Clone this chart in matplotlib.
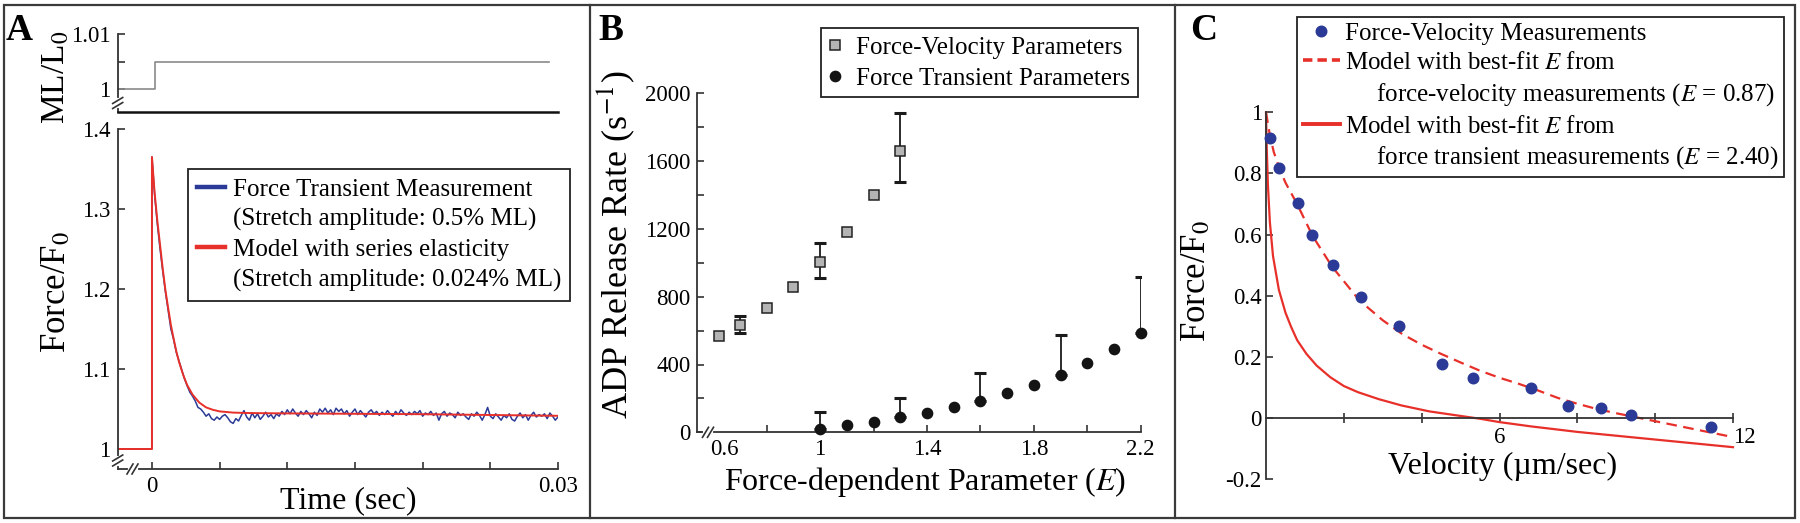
import numpy as np
import matplotlib
matplotlib.use('Agg')
import matplotlib.pyplot as plt
from matplotlib.lines import Line2D
from matplotlib.patches import Rectangle
import matplotlib.transforms as mtransforms

plt.rcParams['font.family'] = ['Liberation Serif', 'DejaVu Serif']
plt.rcParams['mathtext.fontset'] = 'stix'

# ---------------- data: panel A ----------------
ml_time = [-0.0025, 0.0002, 0.0002, 0.0293]
ml_value = [1.0, 1.0, 1.005, 1.005]

model_time = [-0.0025, 0.0, 0.0, 0.0002, 0.0004, 0.0006, 0.0008, 0.0010, 0.0012, 0.0014,
              0.0016, 0.0018, 0.0020, 0.0023, 0.0026, 0.0030, 0.0035, 0.0040, 0.0045,
              0.0050, 0.0060, 0.0070, 0.0080, 0.0100, 0.0150, 0.0200, 0.0250, 0.0300]
model_force = [1.0, 1.0, 1.365, 1.32, 1.285, 1.255, 1.225, 1.198, 1.176, 1.155,
               1.138, 1.122, 1.109, 1.093, 1.080, 1.068, 1.058, 1.052, 1.049,
               1.047, 1.0455, 1.045, 1.0448, 1.0445, 1.0440, 1.0435, 1.0425, 1.0415]

meas_time_pre = [-0.0025, 0.0]
meas_force_pre = [1.0, 1.0]
meas_dt = 0.0002
meas_force = [
    1.365, 1.317, 1.281, 1.250, 1.222, 1.196, 1.173, 1.150, 1.137, 1.121,
    1.110, 1.099, 1.088, 1.079, 1.071,
    1.066, 1.060, 1.052, 1.050, 1.046, 1.041, 1.044, 1.038, 1.036, 1.040,
    1.037, 1.041, 1.043, 1.039, 1.034, 1.032, 1.038, 1.035, 1.042, 1.048,
    1.040, 1.036, 1.045, 1.039, 1.044, 1.037, 1.041, 1.046, 1.040, 1.043,
    1.038, 1.044, 1.041, 1.047, 1.043, 1.049, 1.044, 1.050, 1.045, 1.041,
    1.047, 1.043, 1.048, 1.044, 1.039, 1.046, 1.042, 1.050, 1.046, 1.051,
    1.045, 1.049, 1.043, 1.051, 1.047, 1.050, 1.044, 1.048, 1.041, 1.046,
    1.050, 1.043, 1.048, 1.044, 1.040, 1.046, 1.049, 1.044, 1.047, 1.042,
    1.046, 1.043, 1.048, 1.044, 1.041, 1.047, 1.043, 1.049, 1.045, 1.042,
    1.046, 1.043, 1.047, 1.044, 1.048, 1.041, 1.045, 1.043, 1.047, 1.042,
    1.045, 1.036, 1.044, 1.047, 1.041, 1.045, 1.043, 1.039, 1.046, 1.042,
    1.044, 1.040, 1.037, 1.044, 1.041, 1.046, 1.042, 1.036, 1.043, 1.052,
    1.041, 1.038, 1.044, 1.040, 1.036, 1.042, 1.039, 1.044, 1.037, 1.035,
    1.041, 1.045, 1.039, 1.043, 1.036, 1.042, 1.046, 1.040, 1.043, 1.041,
    1.044, 1.038, 1.045, 1.041, 1.036, 1.040]

# ---------------- data: panel B ----------------
fv_E = [0.62, 0.7, 0.8, 0.9, 1.0, 1.1, 1.2, 1.3]
fv_rate = [568, 631, 731, 855, 1003, 1182, 1400, 1662]
fv_err_E = [0.7, 1.0, 1.3]
fv_err_lo = [588, 912, 1477]
fv_err_hi = [684, 1115, 1884]

ft_E = [1.0, 1.1, 1.2, 1.3, 1.4, 1.5, 1.6, 1.7, 1.8, 1.9, 2.0, 2.1, 2.2]
ft_rate = [22, 41, 63, 88, 116, 147, 187, 230, 279, 338, 409, 490, 588]
ft_err_E = [1.0, 1.3, 1.6, 1.9, 2.2]
ft_err_hi = [118, 205, 348, 574, 918]

# ---------------- data: panel C ----------------
fvm_vel = [0.09, 0.33, 0.81, 1.19, 1.73, 2.44, 3.43, 4.51, 5.33, 6.81, 7.77, 8.61, 9.37, 11.43]
fvm_force = [0.916, 0.817, 0.702, 0.598, 0.502, 0.395, 0.302, 0.177, 0.131, 0.098, 0.040, 0.034, 0.011, -0.028]

fit087_vel = [0, 0.1, 0.2, 0.35, 0.5, 0.8, 1.2, 1.7, 2.4, 3.0, 3.5, 4.0, 4.5, 5.0, 5.5, 6.0,
              6.5, 7.0, 7.5, 8.0, 8.5, 9.0, 9.5, 10.0, 10.5, 11.0, 11.5, 12.0]
fit087_force = [1.0, 0.925, 0.87, 0.815, 0.77, 0.70, 0.595, 0.495, 0.385, 0.32, 0.275, 0.24,
                0.21, 0.182, 0.155, 0.132, 0.112, 0.09, 0.066, 0.047, 0.030, 0.016, 0.003,
                -0.010, -0.023, -0.036, -0.049, -0.062]

fit240_vel = [0, 0.02, 0.05, 0.1, 0.18, 0.33, 0.5, 0.64, 0.8, 1.04, 1.3, 1.65, 2.0, 2.36,
              2.9, 3.48, 4.2, 4.9, 5.5, 6.0, 6.81, 8.0, 10.0, 12.0]
fit240_force = [1.0, 0.88, 0.76, 0.64, 0.53, 0.42, 0.345, 0.30, 0.255, 0.21, 0.172, 0.134,
                0.105, 0.085, 0.062, 0.0415, 0.022, 0.009, -0.002, -0.013, -0.027, -0.045,
                -0.07, -0.095]

# ---------------- styling ----------------
BLUE = '#2b3a96'
RED = '#e8302a'
SPINE = '#333333'
TICK_FS = 16.5
LAB_FS = 23
YLAB_FS = 25
LEG_FS = 18

W, H = 1800, 523
fig = plt.figure(figsize=(18, 5.23), dpi=100)


def fx(x):
    return x / W


def fy(y):
    return 1 - y / H


def axes_px(l, t, r, b):
    return fig.add_axes([fx(l), fy(b), (r - l) / W, (b - t) / H])


def style(ax, pad=5):
    for s in ['top', 'right']:
        ax.spines[s].set_visible(False)
    for s in ['left', 'bottom']:
        ax.spines[s].set_linewidth(1.3)
        ax.spines[s].set_color(SPINE)
    ax.tick_params(direction='in', length=5, width=1.2, color=SPINE,
                   labelsize=TICK_FS, pad=pad)


def brk(xc, yc, orient):
    """axis break mark drawn in figure pixels"""
    if orient == 'v':
        fig.add_artist(Line2D([fx(xc), fx(xc)], [fy(yc - 3), fy(yc + 3)],
                              color='white', lw=3, transform=fig.transFigure))
        for d in (-2.5, 2.5):
            fig.add_artist(Line2D([fx(xc - 5), fx(xc + 5)], [fy(yc + d + 3), fy(yc + d - 3)],
                                  color=SPINE, lw=1.2, transform=fig.transFigure))
    else:
        fig.add_artist(Line2D([fx(xc - 3), fx(xc + 3)], [fy(yc), fy(yc)],
                              color='white', lw=3, transform=fig.transFigure))
        for d in (-2.5, 2.5):
            fig.add_artist(Line2D([fx(xc + d - 3), fx(xc + d + 3)], [fy(yc + 5), fy(yc - 5)],
                                  color=SPINE, lw=1.2, transform=fig.transFigure))


def legend_kw(x, y, bp, ls, hl, htp):
    return dict(loc='upper left', bbox_to_anchor=(fx(x), fy(y)), bbox_transform=fig.transFigure,
                fontsize=LEG_FS, frameon=True, fancybox=False, framealpha=1,
                edgecolor='#222222', borderpad=bp, labelspacing=ls, handlelength=hl,
                handletextpad=htp, borderaxespad=0)


# ---------------- Panel A (top) ----------------
A_L, A_R = 117.7, 558
axA0 = axes_px(A_L, 34.3, A_R, 112)
style(axA0)
axA0.plot(ml_time, ml_value, color='#8a8a8a', lw=1.2, clip_on=False)
axA0.set_xlim(-0.00253, 0.03)
axA0.set_ylim(0.99579, 1.01)
axA0.set_yticks([1.0, 1.005, 1.01])
axA0.set_yticklabels(['1', '', '1.01'])
axA0.set_xticks([])
axA0.spines['bottom'].set_linewidth(1.8)
axA0.spines['bottom'].set_color('#111111')
axA0.set_ylabel('ML/L$_0$', fontsize=YLAB_FS - 1)
axA0.yaxis.set_label_coords(-0.106, 0.45)

# ---------------- Panel A (main) ----------------
axA = axes_px(A_L, 129, A_R, 469)
style(axA)
meas_time = [i * meas_dt for i in range(len(meas_force))]
axA.plot(meas_time_pre + meas_time, meas_force_pre + meas_force, color=BLUE, lw=1.1)
axA.plot(model_time, model_force, color=RED, lw=1.4)
axA.set_xlim(-0.00253, 0.03)
axA.set_ylim(0.975, 1.4)
axA.set_yticks([1.0, 1.1, 1.2, 1.3, 1.4])
axA.set_yticklabels(['1', '1.1', '1.2', '1.3', '1.4'])
axA.set_xticks([0, 0.005, 0.01, 0.015, 0.02, 0.025, 0.03])
axA.set_xticklabels(['0', '', '', '', '', '', '0.03'])
axA.set_xlabel('Time (sec)', fontsize=LAB_FS)
axA.xaxis.set_label_coords(0.523, -0.05)
axA.set_ylabel('Force/F$_0$', fontsize=YLAB_FS)
axA.yaxis.set_label_coords(-0.1015, 0.52)

blank = Line2D([], [], color='none')
legA = axA.legend(
    [Line2D([], [], color=BLUE, lw=3.2), blank, Line2D([], [], color=RED, lw=3.2), blank],
    ['Force Transient Measurement', '(Stretch amplitude: 0.5% ML)',
     'Model with series elasticity', '(Stretch amplitude: 0.024% ML)'],
    **legend_kw(187.5, 169, 0.36, 0.3, 1.15, 0.3))
legA.get_frame().set_linewidth(1.3)

# ---------------- Panel B ----------------
axB = axes_px(697.3, 93.3, 1140.7, 432.3)
style(axB)
fv_map = dict(zip(fv_E, fv_rate))
ft_map = dict(zip(ft_E, ft_rate))
fv_err_c = [fv_map[e] for e in fv_err_E]
axB.errorbar(fv_err_E, fv_err_c,
             yerr=[[c - lo for c, lo in zip(fv_err_c, fv_err_lo)],
                   [hi - c for c, hi in zip(fv_err_c, fv_err_hi)]],
             fmt='none', ecolor='#1a1a1a', elinewidth=1.3, capsize=4.3, capthick=2.2, zorder=2)
ft_err_c = [ft_map[e] for e in ft_err_E]
axB.errorbar(ft_err_E, ft_err_c,
             yerr=[[0] * len(ft_err_c), [hi - c for c, hi in zip(ft_err_c, ft_err_hi)]],
             fmt='none', ecolor='#1a1a1a', elinewidth=1.3, capsize=4.3, capthick=2.2, zorder=2)
axB.plot(fv_E, fv_rate, 's', ms=7, mfc='#b4b4b4', mec='#222222', mew=1.1, zorder=3,
         clip_on=False, label='Force-Velocity Parameters')
axB.plot(ft_E, ft_rate, 'o', ms=7.4, mfc='#141414', mec='#141414', zorder=3,
         clip_on=False, label='Force Transient Parameters')
axB.set_xlim(0.54, 2.2)
axB.set_ylim(0, 2000)
axB.set_yticks(np.arange(0, 2001, 200))
axB.set_yticklabels([str(v) if v % 400 == 0 else '' for v in range(0, 2001, 200)])
axB.set_xticks([0.6, 0.8, 1.0, 1.2, 1.4, 1.6, 1.8, 2.0, 2.2])
axB.set_xticklabels(['0.6', '', '1', '', '1.4', '', '1.8', '', '2.2'])
t0 = axB.xaxis.get_major_ticks()[0]
t0.tick1line.set_visible(False)
t0.label1.set_transform(t0.label1.get_transform() +
                        mtransforms.ScaledTranslation(0.11, 0, fig.dpi_scale_trans))
axB.set_xlabel('Force-dependent Parameter ($E$)', fontsize=LAB_FS)
axB.xaxis.set_label_coords(0.5135, -0.095)
axB.set_ylabel('ADP Release Rate (s$^{-1}$)', fontsize=YLAB_FS + 1)
axB.yaxis.set_label_coords(-0.136, 0.5525)
legB = axB.legend(**legend_kw(820.7, 28.3, 0.31, 0.34, 0.5, 0.6))
legB.get_frame().set_linewidth(1.3)

# ---------------- Panel C ----------------
axC = axes_px(1266, 112.3, 1733, 479.3)
style(axC, pad=3)
axC.spines['bottom'].set_position(('data', 0))
axC.plot(fit087_vel, fit087_force, color=RED, lw=1.6, ls=(0, (4.8, 2.9)), clip_on=False)
axC.plot(fit240_vel, fit240_force, color=RED, lw=1.6, clip_on=False)
axC.plot(fvm_vel, fvm_force, 'o', ms=7.6, color=BLUE, zorder=4, clip_on=False)
axC.set_xlim(0, 12)
axC.set_ylim(-0.2, 1.0)
axC.set_yticks([-0.2, 0, 0.2, 0.4, 0.6, 0.8, 1.0])
axC.set_yticklabels(['-0.2', '0', '0.2', '0.4', '0.6', '0.8', '1'])
axC.set_xticks([2, 4, 6, 8, 10, 12])
axC.set_xticklabels(['', '', '6', '', '', '12'])
axC.tick_params(axis='x', direction='inout', length=7)
axC.xaxis.get_major_ticks()[-1].label1.set_horizontalalignment('left')
axC.set_xlabel('Velocity (µm/sec)', fontsize=LAB_FS)
axC.xaxis.set_label_coords(0.5075, 0.074)
axC.set_ylabel('Force/F$_0$', fontsize=YLAB_FS)
axC.yaxis.set_label_coords(-0.1135, 0.54)
legC = axC.legend(
    [Line2D([], [], ls='none', marker='o', ms=7.6, color=BLUE),
     Line2D([], [], color=RED, lw=2.6, ls=(0, (2.6, 1.4))), blank,
     Line2D([], [], color=RED, lw=2.8), blank],
    ['Force-Velocity Measurements',
     'Model with best-fit $E$ from',
     '     force-velocity measurements ($E$ = 0.87)',
     'Model with best-fit $E$ from',
     '     force transient measurements ($E$ = 2.40)'],
    **legend_kw(1297, 16.7, 0.22, 0.28, 1.5, 0.2))
legC.get_frame().set_linewidth(1.3)

# ---------------- breaks, frame, panel letters ----------------
brk(A_L, 103, 'v')
brk(A_L, 460.5, 'v')
brk(132.5, 469, 'h')
brk(708, 432.3, 'h')

fig.add_artist(Rectangle((fx(4), fy(518)), 1791 / W, 513 / H, fill=False,
                         ec='#3a3a3a', lw=1.6, transform=fig.transFigure))
for xd in (590, 1175):
    fig.add_artist(Line2D([fx(xd), fx(xd)], [fy(5), fy(518)], color='#3a3a3a', lw=1.6,
                          transform=fig.transFigure))

for letter, xp in (('A', 6), ('B', 598), ('C', 1190)):
    fig.text(fx(xp), fy(40), letter, fontsize=27, fontweight='bold', va='baseline')

fig.savefig('out.png', dpi=100)
